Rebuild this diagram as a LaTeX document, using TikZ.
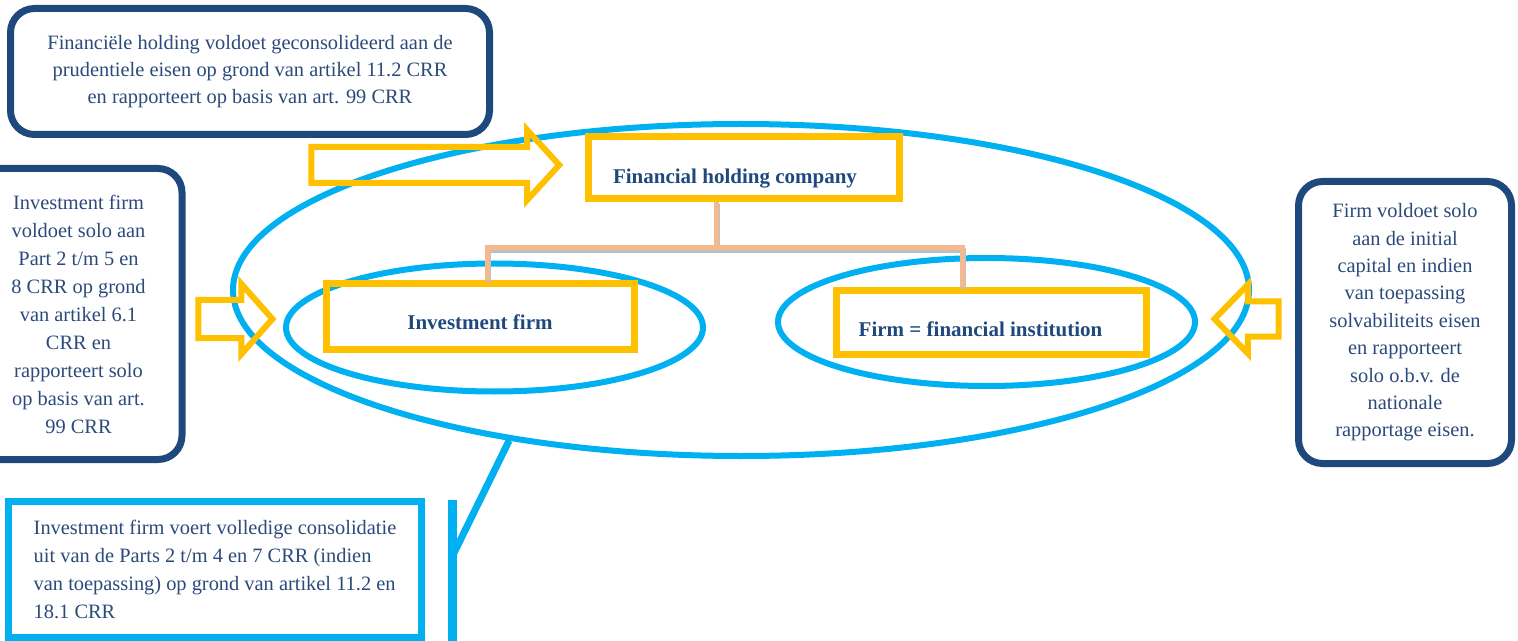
\documentclass[tikz,border=0pt]{standalone}
\usepackage{fontspec}
\setmainfont{Liberation Serif}
\usetikzlibrary{shapes.geometric,shapes.arrows,positioning}
\definecolor{navy}{HTML}{1F497D}
\definecolor{inktext}{HTML}{2B4A7A}
\definecolor{sky}{HTML}{00B0F0}
\definecolor{amber}{HTML}{FFC000}
\definecolor{peach}{HTML}{F5B98F}

\begin{document}
\begin{tikzpicture}
    [x=0.5pt,y=-0.5pt,
    note/.style={rectangle,rounded corners=12pt,draw=navy,line width=3.5pt,
    text=inktext,align=center,inner sep=0pt,font=\fontsize{10.2}{13.7}\selectfont},
    callout/.style={rectangle,draw=sky,line width=3.5pt,text=inktext,align=left,
    inner sep=0pt,font=\fontsize{10.2}{13.85}\selectfont},
    entity/.style={rectangle,draw=amber,line width=3.5pt,text=navy,text depth=0pt,
    font=\fontsize{10.5}{12}\selectfont\bfseries,inner sep=0pt},
    group/.style={ellipse,draw=sky,line width=3pt,inner sep=0pt},
    pointer/.style={single arrow,draw=amber,line width=3pt,inner xsep=0pt},
    branch/.style={draw=peach,line width=2.5pt,
    preaction={draw=black!25,line width=2.5pt,transform canvas={shift={(0.8pt,-1.2pt)}}}}]
    \clip (0,0) rectangle (1518,641);
    % grouping ellipses
    \node[group,minimum width=508pt,minimum height=166pt] (outer) at (741,290) {};
    \node[group,minimum width=208.5pt,minimum height=64pt] (leftgroup) at (494.5,327.5) {};
    \node[group,minimum width=208.5pt,minimum height=64pt] (rightgroup) at (986.5,322) {};
    % structure
    \node[entity,minimum width=155.5pt,minimum height=31pt,text height=16pt] (holding) at (744,167.5) {Financial holding company\hspace*{9pt}};
    \node[entity,minimum width=154pt,minimum height=33pt,text height=12.5pt] (invest) at (480,316.5) {Investment firm};
    \node[entity,minimum width=155pt,minimum height=32pt,text height=13.5pt] (firm) at (991.5,322.5) {Firm = financial institution\hspace*{11pt}};
    \draw[branch] ([xshift=-14pt]holding.south) -- ++(0,46) coordinate (fork);
    \draw[branch] ([xshift=3.5pt]invest.north) |- (fork) -| ([xshift=-14.75pt]firm.north);
    % explanations
    \node[note,minimum width=239.5pt,minimum height=63pt] (holdnote) at (250,71.5)
        {Financiële holding voldoet geconsolideerd aan de\\prudentiele eisen op grond van artikel 11.2 CRR\\en rapporteert op basis van art. 99 CRR};
    \node[note,minimum width=103.5pt,minimum height=145.5pt,font=\fontsize{10.2}{14}\selectfont] (investnote) at (78.5,314)
        {Investment firm\\voldoet solo aan\\Part 2 t/m 5 en\\8 CRR op grond\\van artikel 6.1\\CRR en\\rapporteert solo\\op basis van art.\\99 CRR};
    \node[note,minimum width=106.5pt,minimum height=141pt] (firmnote) at (1405,322.5)
        {Firm voldoet solo\\aan de initial\\capital en indien\\van toepassing\\solvabiliteits eisen\\en rapporteert\\solo o.b.v. de\\nationale\\rapportage eisen.};
    \node[callout,minimum width=206.5pt,minimum height=68pt] (consnote) at (215,569.5)
        {Investment firm voert volledige consolidatie\\uit van de Parts 2 t/m 4 en 7 CRR (indien\\van toepassing) op grond van artikel 11.2 en\\18.1 CRR};
    % block arrows
    \node[pointer,minimum height=124pt,inner ysep=7.5pt,single arrow head extend=8.5pt,single arrow tip angle=95] (holdarrow) at (427,165) {};
    \node[pointer,minimum height=37pt,inner ysep=8pt,single arrow head extend=8pt,single arrow tip angle=97] (investarrow) at (227,319) {};
    \node[pointer,minimum height=32pt,inner ysep=7.25pt,single arrow head extend=8.5pt,single arrow tip angle=92,shape border rotate=180] (firmarrow) at (1255,319) {};
    % callout line
    \coordinate (bartop) at (452,500);
    \coordinate (barbot) at (452,645);
    \coordinate (barjoint) at (452,557);
    \draw[sky,line width=4.5pt] (bartop) -- (barbot);
    \draw[sky,line width=3.5pt] (barjoint) -- (outer.213);
\end{tikzpicture}
\end{document}
